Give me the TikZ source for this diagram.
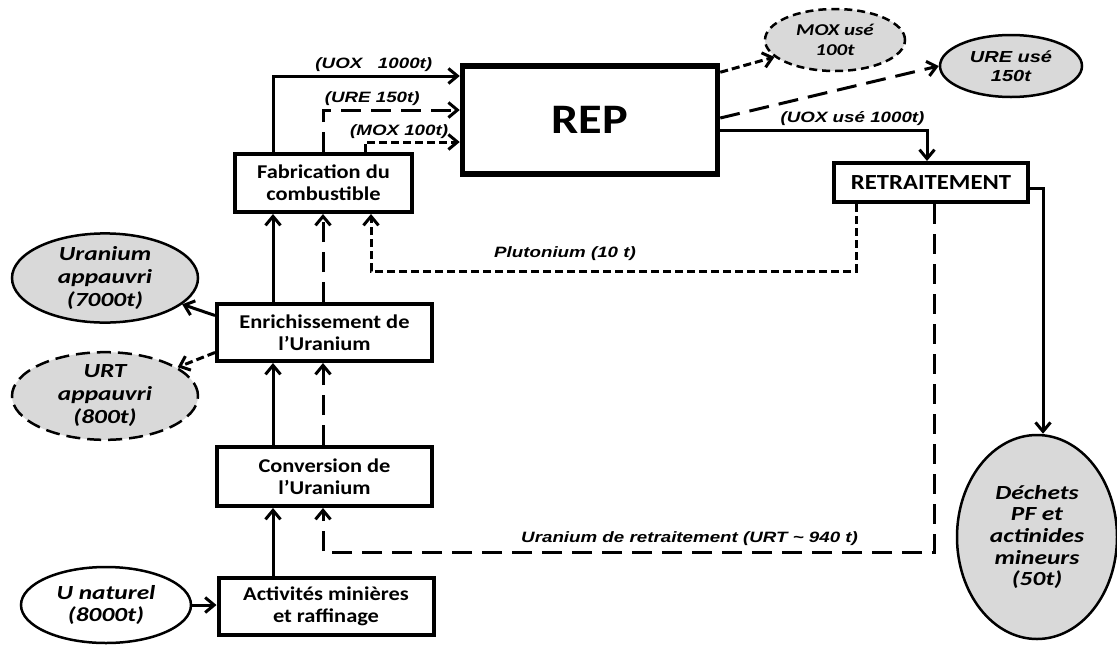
\documentclass[tikz,border=0pt]{standalone}
\usepackage{fontspec}
\setmainfont{Carlito}[FakeStretch=1.15]
\newfontfamily\stockfont{Carlito}[FakeStretch=1.27]
\newfontfamily\arialfont{Liberation Sans}[FakeStretch=1.25]
\usetikzlibrary{shapes.geometric,arrows.meta}
\definecolor{stockgray}{HTML}{D9D9D9}
\tikzstyle{box}=[draw, rectangle, line width=4pt, inner sep=0pt, align=center, font=\bfseries\fontsize{19.5}{22}\selectfont]
\tikzstyle{stock}=[draw, ellipse, line width=2.5pt, fill=stockgray, inner sep=0pt, align=center, font=\stockfont\bfseries\itshape\fontsize{20}{23}\selectfont]
\tikzstyle{flow}=[-{Straight Barb[length=9pt,width=15pt]}, line width=3pt]
\tikzstyle{sd}=[dash pattern=on 8pt off 4pt]
\tikzstyle{ld}=[dash pattern=on 20pt off 10pt]
\tikzstyle{lbl}=[font=\arialfont\bfseries\itshape\fontsize{15}{18}\selectfont]

\begin{document}
\begin{tikzpicture}[x=1pt,y=-1pt]
    \useasboundingbox (0,0) rectangle (1117,646);
    % columns and rows of the connectors
    \coordinate (colA) at (273,0);
    \coordinate (colB) at (323,0);
    \coordinate (colM) at (365,0);
    \coordinate (colP) at (371,0);
    \coordinate (colQ) at (856,0);
    \coordinate (colR) at (927,0);
    \coordinate (colT) at (934,0);
    \coordinate (colD) at (1043,0);
    \coordinate (rowP) at (0,271);
    \coordinate (rowT) at (0,552);

    % stages
    \node[box, line width=5.5pt, minimum width=255pt, minimum height=108pt,
          font=\bfseries\fontsize{42}{46}\selectfont] (rep) at (590,120) {REP};
    \node[box, minimum width=177pt, minimum height=58pt] (fab) at (323.5,183) {Fabrication du\\combustible};
    \node[box, minimum width=194pt, minimum height=39pt,
          font=\bfseries\fontsize{21.5}{24}\selectfont] (ret) at (931,182.5) {RETRAITEMENT};
    \node[box, minimum width=215pt, minimum height=57pt] (enr) at (324.5,332.5) {Enrichissement de\\l’Uranium};
    \node[box, minimum width=215pt, minimum height=59pt] (conv) at (324.5,476.5) {Conversion de\\l’Uranium};
    \node[box, minimum width=215pt, minimum height=57pt] (act) at (326,606.5) {Activités minières\\et raffinage};

    % stocks
    \node[stock, minimum width=186pt, minimum height=80pt] (uapp) at (105,278) {Uranium\\appauvri\\(7000t)};
    \node[stock, dash pattern=on 14pt off 7pt, minimum width=186pt, minimum height=82pt] (urt) at (105,396) {URT\\appauvri\\(800t)};
    \node[stock, fill=white, minimum width=170pt, minimum height=76pt,
          font=\stockfont\bfseries\itshape\fontsize{20}{21.7}\selectfont] (unat) at (106,605) {U naturel\\(8000t)};
    \node[stock, dash pattern=on 8pt off 5pt, minimum width=140pt, minimum height=62pt,
          font=\stockfont\bfseries\itshape\fontsize{16.5}{20}\selectfont] (mox) at (835,40) {MOX usé\\100t};
    \node[stock, minimum width=142pt, minimum height=62pt,
          font=\arialfont\bfseries\itshape\fontsize{16}{19}\selectfont] (ure) at (1011,66) {URE usé\\150t};
    \node[stock, minimum width=160pt, minimum height=204pt,
          font=\stockfont\bfseries\itshape\fontsize{20}{21.7}\selectfont] (dech) at (1037,537) {Déchets\\PF et\\actinides\\mineurs\\(50t)};

    % fuel to the reactor
    \draw[flow] (colA |- fab.north) |- (rep.west |- 0,76)
        node[lbl, above, pos=0.77] {(UOX\ \ \ 1000t)};
    \draw[flow, ld] (colB |- fab.north) |- (rep.west |- 0,110)
        node[lbl, above, pos=0.68] {(URE 150t)};
    \draw[flow, sd] (colM |- fab.north) |- (rep.west |- 0,142)
        node[lbl, above=-1pt, pos=0.68] {(MOX 100t)};

    % front end
    \draw[flow] (colA |- enr.north) -- (colA |- fab.south);
    \draw[flow, ld] (colB |- enr.north) -- (colB |- fab.south);
    \draw[flow] (colA |- conv.north) -- (colA |- enr.south);
    \draw[flow, ld] (colB |- conv.north) -- (colB |- enr.south);
    \draw[flow] (colA |- act.north) -- (colA |- conv.south);
    \draw[flow] (unat.east) -- (unat.east -| act.west);
    \draw[flow] ([yshift=17pt]enr.west) -- (uapp);
    \draw[flow, sd] ([yshift=-20pt]enr.west) -- (urt);

    % spent fuel
    \draw[flow, sd] ([yshift=-9pt]rep.north east) -- (mox);
    \draw[flow, ld] ([yshift=2pt]rep.east) -- (ure.west);
    \draw[flow] ([yshift=-10pt]rep.east) -| (colR |- ret.north)
        node[lbl, above, pos=0.32] {(UOX usé 1000t)};
    \draw[flow] ([yshift=-5.5pt]ret.east) -| (colD |- dech.north);

    % recycling
    \draw[flow, sd] (colQ |- ret.south) |- (colP |- rowP)
        node[lbl, above=6pt, pos=0.8] {Plutonium (10 t)} -- (colP |- fab.south);
    \draw[flow, ld] (colT |- ret.south) |- (colB |- rowT)
        node[lbl, above=2pt, pos=0.7] {Uranium de retraitement (URT \textasciitilde{} 940 t)} -- (colB |- conv.south);
\end{tikzpicture}
\end{document}
